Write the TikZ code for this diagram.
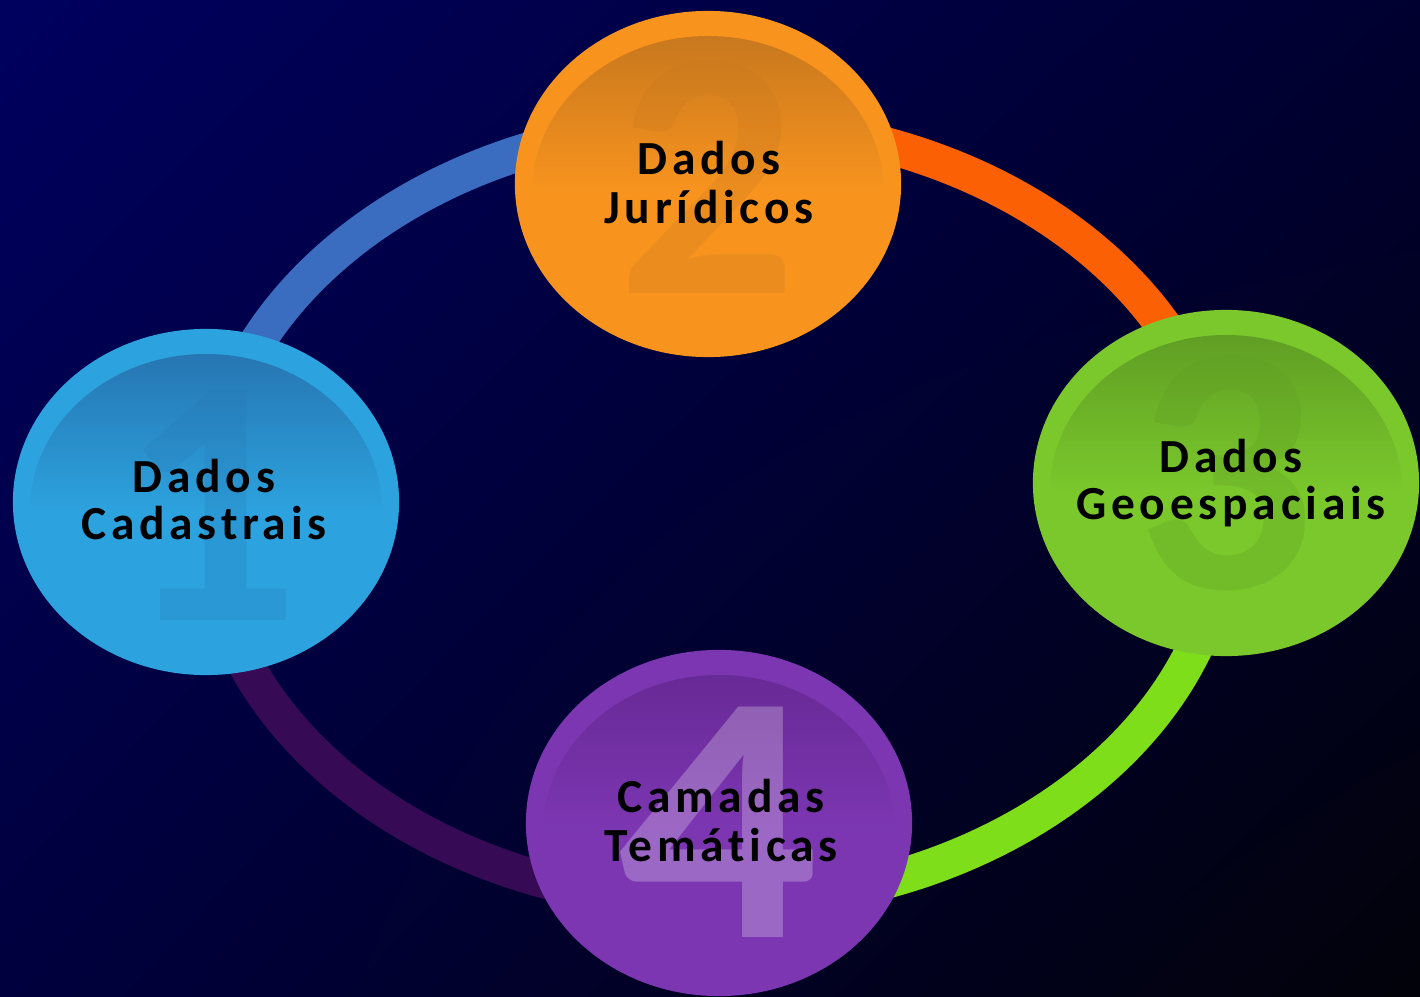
\documentclass[tikz,border=0pt]{standalone}
\usepackage{fontspec}
\setmainfont{Carlito}
\newfontfamily\lblfont[LetterSpace=10,Ligatures=NoCommon]{Carlito}
\newfontfamily\ghostfont{Carlito}
\usetikzlibrary{shapes.geometric,shadings}
\definecolor{bgUL}{RGB}{0,0,95}
\definecolor{bgUR}{RGB}{0,0,48}
\definecolor{bgLL}{RGB}{0,0,62}
\definecolor{bgLR}{RGB}{2,2,10}
\definecolor{ringblue}{RGB}{58,108,192}
\definecolor{ringorange}{RGB}{252,96,4}
\definecolor{ringgreen}{RGB}{126,222,26}
\definecolor{ringpurple}{RGB}{54,10,84}
\definecolor{blueMain}{RGB}{44,162,222}
\definecolor{blueDark}{RGB}{38,118,178}
\definecolor{orangeMain}{RGB}{248,148,30}
\definecolor{orangeDark}{RGB}{200,120,30}
\definecolor{greenMain}{RGB}{122,200,44}
\definecolor{greenDark}{RGB}{96,158,36}
\definecolor{purpleMain}{RGB}{124,54,178}
\definecolor{purpleDark}{RGB}{104,42,150}
\tikzset{
  ringarc/.style={line width=0.36cm},
  bubble/.style={ellipse, minimum width=3.86cm, minimum height=3.46cm, inner sep=0pt, fill=#1},
  inner/.style n args={2}{top color=#1, bottom color=#2, middle color=#2},
  ghost/.style={font=\ghostfont\bfseries\fontsize{101}{101}\selectfont, inner sep=0pt, anchor=center},
  lbl/.style={font=\lblfont\bfseries\fontsize{13.5}{15}\selectfont, inner sep=0pt, anchor=base, text=black},
}
\begin{document}
\begin{tikzpicture}[x=0.01cm, y=-0.01cm]
\useasboundingbox (0,0) rectangle (1420,997);
\shade[upper left=bgUL, upper right=bgUR, lower left=bgLL, lower right=bgLR] (0,0) rectangle (1420,997);
% ring
\draw[ringarc, ringblue] (206,513) arc[start angle=180, end angle=270, x radius=510, y radius=390];
\draw[ringarc, ringorange] (716,123) arc[start angle=270, end angle=360, x radius=510, y radius=390];
\draw[ringarc, ringgreen] (1226,513) arc[start angle=0, end angle=90, x radius=510, y radius=390];
\draw[ringarc, ringpurple] (716,903) arc[start angle=90, end angle=180, x radius=510, y radius=390];
% bubbles
\node[bubble=blueMain] (b1) at (206,502) {};
\shade[inner={blueDark}{blueMain}] (206,510) ellipse [x radius=176, y radius=156];
\node[bubble=orangeMain] (b2) at (708,184) {};
\shade[inner={orangeDark}{orangeMain}] (708,192) ellipse [x radius=176, y radius=156];
\node[bubble=greenMain] (b3) at (1226,483) {};
\shade[inner={greenDark}{greenMain}] (1226,491) ellipse [x radius=176, y radius=156];
\node[bubble=purpleMain] (b4) at (719,823) {};
\shade[inner={purpleDark}{purpleMain}] (719,831) ellipse [x radius=176, y radius=156];
% ghost digits
\node[ghost, text=blueDark, text opacity=0.22] (g1) at (210,505) {1};
\node[ghost, text=orangeDark, text opacity=0.25] (g2) at (708,177) {2};
\node[ghost, text=greenDark, text opacity=0.28] (g3) at (1226,473) {3};
\node[ghost, text=white, text opacity=0.25, xscale=1.12] (g4) at (718,822) {4};
% labels
\node[lbl] (t1a) at (204,492) {Dados};
\node[lbl] (t1b) at (204,540) {Cadastrais};
\node[lbl] (t2a) at (709,175) {Dados};
\node[lbl] (t2b) at (709,224) {Jurídicos};
\node[lbl] (t3a) at (1231,472) {Dados};
\node[lbl] (t3b) at (1231,520) {Geoespaciais};
\node[lbl] (t4a) at (721,812) {Camadas};
\node[lbl] (t4b) at (721,861) {Temáticas};
\end{tikzpicture}
\end{document}
